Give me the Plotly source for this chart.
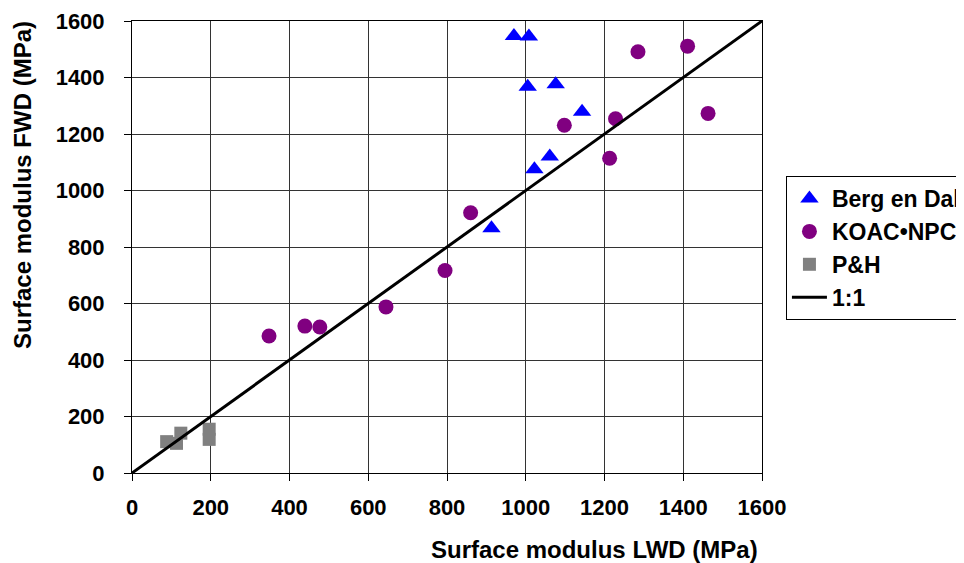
import plotly.graph_objects as go

# Data
berg_x = [970, 1008, 1005, 1076, 1143, 1061, 1022, 913]
berg_y = [1547, 1545, 1367, 1376, 1279, 1120, 1075, 866]

koac_x = [1285, 1411, 1463, 1228, 1098, 1213, 860, 795, 645, 439, 477, 348]
koac_y = [1491, 1511, 1273, 1254, 1231, 1114, 921, 717, 588, 520, 517, 485]

ph_x = [88, 113, 124, 196, 196]
ph_y = [111, 105, 141, 155, 119]

line_x = [0, 1600]
line_y = [0, 1600]

tick_vals = [0, 200, 400, 600, 800, 1000, 1200, 1400, 1600]

FONT = "Liberation Sans, Arial, sans-serif"

fig = go.Figure()
fig.add_trace(go.Scatter(x=berg_x, y=berg_y, mode="markers", name="Berg en Dal",
                         marker=dict(symbol="triangle-up", size=16, color="#0000FF")))
fig.add_trace(go.Scatter(x=koac_x, y=koac_y, mode="markers", name="KOAC•NPC",
                         marker=dict(symbol="circle", size=15, color="#800080")))
fig.add_trace(go.Scatter(x=ph_x, y=ph_y, mode="markers", name="P&H",
                         marker=dict(symbol="square", size=13, color="#808080")))
fig.add_trace(go.Scatter(x=line_x, y=line_y, mode="lines", name="1:1",
                         line=dict(color="black", width=3)))

axis_common = dict(
    range=[0, 1600], tickvals=tick_vals, ticks="outside", ticklen=7,
    tickcolor="black", showline=True, linecolor="black", linewidth=1,
    mirror=True, showgrid=True, gridcolor="#333333", gridwidth=1,
    zeroline=False, tickfont=dict(family=FONT, size=22, color="black", weight="bold"),
)

# page body has an 8px margin, so margins are reduced by 8 on left/top
fig.update_layout(
    width=964, height=563,
    margin=dict(l=124, r=210, t=13, b=98, autoexpand=False),
    paper_bgcolor="white", plot_bgcolor="white",
    font=dict(family=FONT, color="black"),
    xaxis=dict(**axis_common, ticklabelstandoff=8),
    yaxis=dict(**axis_common, ticklabelstandoff=15),
    legend=dict(x=1.038, xanchor="left", y=0.657, yanchor="top",
                bordercolor="black", borderwidth=1, bgcolor="white",
                font=dict(family=FONT, size=23, color="black", weight="bold"),
                tracegroupgap=0, itemwidth=35),
    showlegend=True,
)
fig.add_annotation(text="Surface modulus LWD (MPa)", xref="paper", yref="paper",
                   x=(594 - 132) / 630, y=-(549 - 473) / 452, showarrow=False,
                   xanchor="center", yanchor="middle",
                   font=dict(family=FONT, size=24, color="black", weight="bold"))
fig.add_annotation(text="Surface modulus FWD (MPa)", xref="paper", yref="paper",
                   x=-(132 - 22) / 630, y=(473 - 185) / 452, showarrow=False,
                   textangle=-90, xanchor="center", yanchor="middle",
                   font=dict(family=FONT, size=24, color="black", weight="bold"))

fig.write_html("out.html")
